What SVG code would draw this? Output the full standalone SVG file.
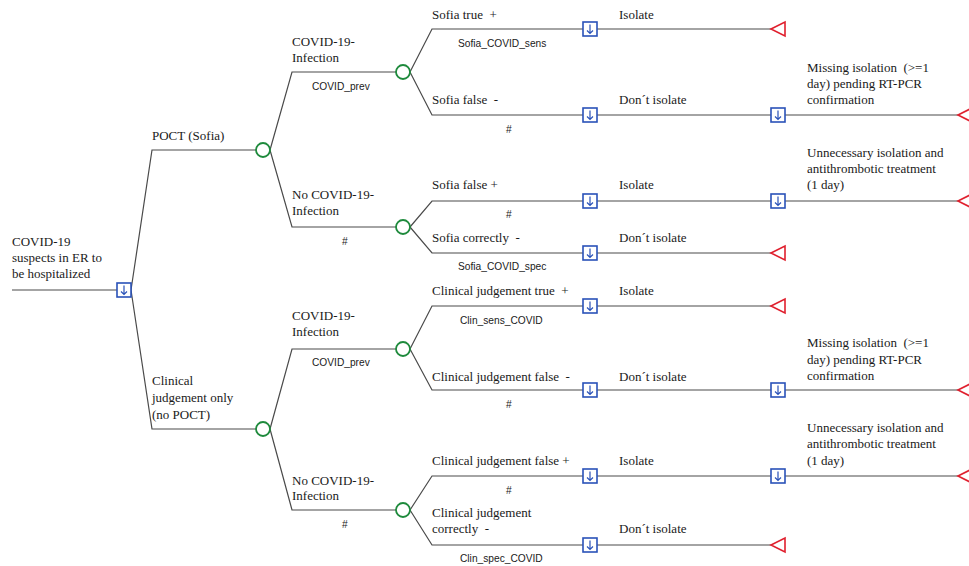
<svg xmlns="http://www.w3.org/2000/svg" width="969" height="566" viewBox="0 0 969 566">
<style>
.ln{fill:none;stroke:#4a4a4a;stroke-width:1.2}
.chn{fill:#fff;stroke:#1e8a3c;stroke-width:1.8}
.t{font-family:"Liberation Serif","Times New Roman",serif;font-size:13px;fill:#1a1a1a}
.s{font-family:"Liberation Sans",Arial,sans-serif;font-size:10.2px;fill:#1a1a1a}
</style>
<defs>
<g id="box"><rect x="-7" y="-7" width="14" height="14" fill="#fff" stroke="#2a52b8" stroke-width="1.6"/><path d="M0,-4.5 V4.5 M-3,1.5 L0,4.5 L3,1.5" fill="none" stroke="#2a52b8" stroke-width="1.2"/></g>
<polygon id="tri" points="0,0 14,-7 14,7" fill="#fff" stroke="#e0202e" stroke-width="1.6"/>
</defs>
<rect width="969" height="566" fill="#fff"/>
<g id="connectors">
<path class="ln" d="M12,290 H117"/>
<path class="ln" d="M131,290 L152,150 H256"/>
<path class="ln" d="M131,290 L152,429 H256"/>
<path class="ln" d="M270,150 L292,72 H396"/>
<path class="ln" d="M270,150 L292,227 H396"/>
<path class="ln" d="M270,429 L292,349 H396"/>
<path class="ln" d="M270,429 L292,510 H396"/>
<path class="ln" d="M410,72 L432,29 H583"/>
<path class="ln" d="M410,72 L432,115 H583"/>
<path class="ln" d="M410,227 L432,201 H583"/>
<path class="ln" d="M410,227 L432,253 H583"/>
<path class="ln" d="M410,349 L432,306 H583"/>
<path class="ln" d="M410,349 L432,390 H583"/>
<path class="ln" d="M410,510 L432,476 H583"/>
<path class="ln" d="M410,510 L432,545 H583"/>
<path class="ln" d="M597,29 H771"/>
<path class="ln" d="M597,115 H771 M785,115 H958"/>
<path class="ln" d="M597,201 H771 M785,201 H958"/>
<path class="ln" d="M597,253 H771"/>
<path class="ln" d="M597,306 H771"/>
<path class="ln" d="M597,390 H771 M785,390 H958"/>
<path class="ln" d="M597,476 H771 M785,476 H958"/>
<path class="ln" d="M597,545 H771"/>
</g>
<g id="root"><use href="#box" x="124" y="290"/>
<text class="t" x="12" y="246">COVID-19</text><text class="t" x="12" y="262">suspects in ER to</text><text class="t" x="12" y="278">be hospitalized</text></g>
<g id="poct"><circle class="chn" cx="263" cy="150" r="7"/><text class="t" x="152" y="140">POCT (Sofia)</text></g>
<g id="clin"><circle class="chn" cx="263" cy="429" r="7"/><text class="t" x="152" y="385">Clinical</text><text class="t" x="152" y="402">judgement only</text><text class="t" x="152" y="419">(no POCT)</text></g>
<g id="poct_covid"><circle class="chn" cx="403" cy="72" r="7"/><text class="t" x="292" y="46">COVID-19-</text><text class="t" x="292" y="62">Infection</text><text class="s" x="312" y="90">COVID_prev</text></g>
<g id="poct_nocovid"><circle class="chn" cx="403" cy="227" r="7"/><text class="t" x="292" y="199">No COVID-19-</text><text class="t" x="292" y="215">Infection</text><text class="s" x="342" y="245">#</text></g>
<g id="clin_covid"><circle class="chn" cx="403" cy="349" r="7"/><text class="t" x="292" y="320">COVID-19-</text><text class="t" x="292" y="336">Infection</text><text class="s" x="312" y="366">COVID_prev</text></g>
<g id="clin_nocovid"><circle class="chn" cx="403" cy="510" r="7"/><text class="t" x="292" y="485">No COVID-19-</text><text class="t" x="292" y="500">Infection</text><text class="s" x="342" y="528">#</text></g>

<g id="d1"><use href="#box" x="590" y="29"/><text class="t" x="432" y="19" xml:space="preserve">Sofia true  +</text><text class="s" x="458" y="47">Sofia_COVID_sens</text><text class="t" x="619" y="19">Isolate</text></g>
<g id="d2"><use href="#box" x="590" y="115"/><text class="t" x="432" y="104" xml:space="preserve">Sofia false  -</text><text class="s" x="506" y="133">#</text><text class="t" x="619" y="104">Don´t isolate</text></g>
<g id="d3"><use href="#box" x="590" y="201"/><text class="t" x="432" y="189">Sofia false +</text><text class="s" x="506" y="218">#</text><text class="t" x="619" y="189">Isolate</text></g>
<g id="d4"><use href="#box" x="590" y="253"/><text class="t" x="432" y="242" xml:space="preserve">Sofia correctly  -</text><text class="s" x="458" y="270">Sofia_COVID_spec</text><text class="t" x="619" y="242">Don´t isolate</text></g>
<g id="d5"><use href="#box" x="590" y="306"/><text class="t" x="432" y="295" xml:space="preserve">Clinical judgement true  +</text><text class="s" x="460" y="324">Clin_sens_COVID</text><text class="t" x="619" y="295">Isolate</text></g>
<g id="d6"><use href="#box" x="590" y="390"/><text class="t" x="432" y="381" xml:space="preserve">Clinical judgement false  -</text><text class="s" x="506" y="408">#</text><text class="t" x="619" y="381">Don´t isolate</text></g>
<g id="d7"><use href="#box" x="590" y="476"/><text class="t" x="432" y="465">Clinical judgement false +</text><text class="s" x="506" y="494">#</text><text class="t" x="619" y="465">Isolate</text></g>
<g id="d8"><use href="#box" x="590" y="545"/><text class="t" x="432" y="517">Clinical judgement</text><text class="t" x="432" y="533" xml:space="preserve">correctly  -</text><text class="s" x="460" y="562">Clin_spec_COVID</text><text class="t" x="619" y="533">Don´t isolate</text></g>

<g id="e2"><use href="#box" x="778" y="115"/><text class="t" x="807" y="72" xml:space="preserve">Missing isolation  (&gt;=1</text><text class="t" x="807" y="88">day) pending RT-PCR</text><text class="t" x="807" y="104">confirmation</text></g>
<g id="e3"><use href="#box" x="778" y="201"/><text class="t" x="807" y="157">Unnecessary isolation and</text><text class="t" x="807" y="173">antithrombotic treatment</text><text class="t" x="807" y="189">(1 day)</text></g>
<g id="e6"><use href="#box" x="778" y="390"/><text class="t" x="807" y="347" xml:space="preserve">Missing isolation  (&gt;=1</text><text class="t" x="807" y="364">day) pending RT-PCR</text><text class="t" x="807" y="380">confirmation</text></g>
<g id="e7"><use href="#box" x="778" y="476"/><text class="t" x="807" y="432">Unnecessary isolation and</text><text class="t" x="807" y="448">antithrombotic treatment</text><text class="t" x="807" y="465">(1 day)</text></g>

<g id="t1"><use href="#tri" x="771" y="29"/></g>
<g id="t2"><use href="#tri" x="958" y="115"/></g>
<g id="t3"><use href="#tri" x="958" y="201"/></g>
<g id="t4"><use href="#tri" x="771" y="253"/></g>
<g id="t5"><use href="#tri" x="771" y="306"/></g>
<g id="t6"><use href="#tri" x="958" y="390"/></g>
<g id="t7"><use href="#tri" x="958" y="476"/></g>
<g id="t8"><use href="#tri" x="771" y="545"/></g>
</svg>
